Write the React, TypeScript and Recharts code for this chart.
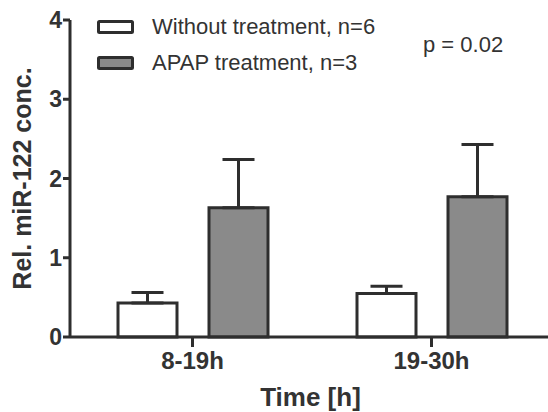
import React from 'react'
import { Bar, BarChart, ErrorBar, Legend, XAxis, YAxis } from 'recharts'

const periods = ['8-19h', '19-30h']
const withoutTreatment = [0.43, 0.55]
const withoutTreatmentSem = [0.13, 0.09]
const apapTreatment = [1.63, 1.77]
const apapTreatmentSem = [0.61, 0.66]
const yTicks = [0, 1, 2, 3, 4]
const seriesNames = ['Without treatment, n=6', 'APAP treatment, n=3']
const pValue = 'p = 0.02'

const data = periods.map((period, i) => ({
  period,
  without: withoutTreatment[i],
  withoutErr: [0, withoutTreatmentSem[i]],
  apap: apapTreatment[i],
  apapErr: [0, apapTreatmentSem[i]],
}))

const font = '"Liberation Sans", Arial, sans-serif'
const ink = '#2e2e2e'
const fills = ['#ffffff', '#8a8a8a']

const LegendBox = () => (
  <div style={{ position: 'relative', width: 548, height: 80, fontFamily: font, color: '#333' }}>
    {seriesNames.map((name, i) => (
      <div
        key={name}
        style={{
          position: 'absolute',
          left: 97,
          top: 14 + i * 36,
          display: 'flex',
          alignItems: 'center',
          fontSize: 22,
          lineHeight: '26px',
        }}
      >
        <svg width={37} height={14} style={{ marginRight: 18 }}>
          <rect x={1.5} y={1.5} width={34} height={11} rx={1} fill={fills[i]} stroke={ink} strokeWidth={3} />
        </svg>
        {name}
      </div>
    ))}
    <div style={{ position: 'absolute', left: 423, top: 32, fontSize: 22, lineHeight: '26px' }}>{pValue}</div>
  </div>
)

export default function App() {
  return (
    <div style={{ position: 'absolute', left: 0, top: 0, background: '#fff', overflow: 'hidden', width: 548, height: 412 }}>
      <BarChart
        width={548}
        height={412}
        data={data}
        margin={{ top: 20, right: -3, bottom: 0, left: 0 }}
        barSize={59}
        barGap={32}
      >
        <XAxis
          dataKey="period"
          height={75}
          padding={{ left: 3, right: 0 }}
          axisLine={{ stroke: ink, strokeWidth: 3 }}
          tickLine={{ stroke: ink, strokeWidth: 3 }}
          tickSize={10}
          tickMargin={5}
          tick={{ fontSize: 24, fontWeight: 700, fill: '#333', fontFamily: font }}
          label={{
            value: 'Time [h]',
            position: 'insideBottom',
            offset: 6,
            style: { fontSize: 26, fontWeight: 700, fill: '#333', fontFamily: font },
          }}
        />
        <YAxis
          width={70}
          domain={[0, 4]}
          ticks={yTicks}
          interval={0}
          axisLine={{ stroke: ink, strokeWidth: 3 }}
          tickLine={{ stroke: ink, strokeWidth: 3 }}
          tickSize={7}
          tickMargin={1}
          tick={{ fontSize: 23, fontWeight: 700, fill: '#333', fontFamily: font }}
          label={{
            value: 'Rel. miR-122 conc.',
            angle: -90,
            position: 'insideLeft',
            offset: 22,
            style: { textAnchor: 'middle', fontSize: 25, fontWeight: 700, fill: '#333', fontFamily: font },
          }}
        />
        <Legend layout="vertical" align="center" verticalAlign="middle" wrapperStyle={{ top: 0, left: 0 }} content={<LegendBox />} />
        <Bar dataKey="without" name={seriesNames[0]} fill={fills[0]} stroke={ink} strokeWidth={3} isAnimationActive={false}>
          <ErrorBar dataKey="withoutErr" direction="y" width={16} stroke={ink} strokeWidth={3} />
        </Bar>
        <Bar dataKey="apap" name={seriesNames[1]} fill={fills[1]} stroke={ink} strokeWidth={3} isAnimationActive={false}>
          <ErrorBar dataKey="apapErr" direction="y" width={16} stroke={ink} strokeWidth={3} />
        </Bar>
      </BarChart>
    </div>
  )
}
